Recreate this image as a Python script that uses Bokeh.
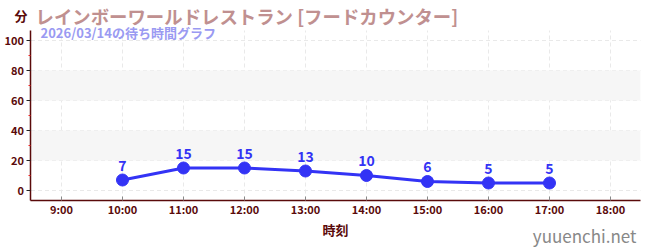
from bokeh.plotting import figure
from bokeh.models import Label, BoxAnnotation, FixedTicker, ColumnDataSource, LabelSet, Range1d
from bokeh.core.properties import value
from bokeh.embed import file_html
from bokeh.resources import INLINE

hours = [10, 11, 12, 13, 14, 15, 16, 17]
waits = [7, 15, 15, 13, 10, 6, 5, 5]
tick_hours = [9, 10, 11, 12, 13, 14, 15, 16, 17, 18]
tick_labels = ["9:00", "10:00", "11:00", "12:00", "13:00", "14:00", "15:00", "16:00", "17:00", "18:00"]
y_ticks = [0, 20, 40, 60, 80, 100]
y_minor = [10, 30, 50, 70, 90]
bands = [(20, 40), (60, 80)]
title = "レインボーワールドレストラン [フードカウンター]"
subtitle = "2026/03/14の待ち時間グラフ"
y_unit = "分"
x_title = "時刻"
watermark = "yuuenchi.net"

FONT = "Noto Sans CJK JP"
AXC = "#5a0a0a"

# plotting region (data units)
X_LO, X_HI = 8.5, 18.49
Y_LO, Y_HI = -6.67, 106.67

p = figure(width=650, height=250, output_backend="svg", toolbar_location=None,
           x_range=Range1d(8.0, 18.656), y_range=Range1d(-40, 126.667),
           min_border=0)
p.title.visible = False
p.outline_line_color = None
p.grid.visible = False

for lo, hi in bands:
    p.add_layout(BoxAnnotation(left=X_LO, right=X_HI, bottom=lo, top=hi, fill_color="#f6f6f6",
                               fill_alpha=1, line_color=None, level="underlay"))

# dashed grid lines drawn from the tick arrays
p.segment(x0=tick_hours, x1=tick_hours, y0=[Y_LO] * len(tick_hours), y1=[Y_HI] * len(tick_hours),
          line_color="#e9e9e9", line_dash="4 3", line_width=1, level="underlay")
p.segment(x0=[X_LO] * len(y_ticks), x1=[X_HI] * len(y_ticks), y0=y_ticks, y1=y_ticks,
          line_color="#e9e9e9", line_dash="4 3", line_width=1, level="underlay")

p.xaxis.fixed_location = Y_LO
p.yaxis.fixed_location = X_LO
p.xaxis.bounds = (X_LO, X_HI)
p.yaxis.bounds = (Y_LO, Y_HI)
p.xaxis.ticker = FixedTicker(ticks=tick_hours)
p.xaxis.major_label_overrides = {h: l for h, l in zip(tick_hours, tick_labels)}
p.yaxis.ticker = FixedTicker(ticks=y_ticks, minor_ticks=y_minor)
for ax in (p.xaxis, p.yaxis):
    ax.axis_line_color = AXC
    ax.axis_line_width = 1.5
    ax.major_label_text_color = AXC
    ax.major_label_text_font = FONT
    ax.major_label_text_font_style = "bold"
    ax.major_label_text_font_size = "11px"
p.yaxis.major_label_standoff = 3
p.xaxis.major_label_standoff = 0
p.yaxis.major_tick_line_color = "#222222"
p.yaxis.major_tick_out = 4
p.yaxis.major_tick_in = 0
p.yaxis.minor_tick_line_color = "#ee2222"
p.yaxis.minor_tick_out = 2
p.yaxis.minor_tick_in = 0
p.xaxis.major_tick_line_color = "#888888"
p.xaxis.major_tick_in = 4
p.xaxis.major_tick_out = 0
p.xaxis.minor_tick_line_color = None
p.xaxis.axis_label = x_title
p.xaxis.axis_label_text_font = FONT
p.xaxis.axis_label_text_font_style = "bold"
p.xaxis.axis_label_text_font_size = "13px"
p.xaxis.axis_label_text_color = AXC
p.xaxis.axis_label_standoff = 0

src = ColumnDataSource(dict(x=hours, y=waits, t=[str(v) for v in waits]))
p.line("x", "y", source=src, line_color="#3333f5", line_width=3)
p.scatter("x", "y", source=src, size=12, fill_color="#3333f5", line_color="#3333f5")
p.add_layout(LabelSet(x="x", y="y", text="t", source=src, y_offset=15, text_align="center",
                      text_baseline="middle", text_color="#3333f5", text_font=value(FONT),
                      text_font_style="bold", text_font_size="14px"))

p.add_layout(Label(x=27, y=235, x_units="screen", y_units="screen", text=y_unit, text_font=FONT,
                   text_font_style="bold", text_font_size="13px", text_color=AXC,
                   text_align="right", text_baseline="middle"))
p.add_layout(Label(x=35, y=235, x_units="screen", y_units="screen", text=title, text_font=FONT,
                   text_font_style="bold", text_font_size="18.4px", text_color="#c09090",
                   text_baseline="middle"))
p.add_layout(Label(x=40, y=218, x_units="screen", y_units="screen", text=subtitle, text_font=FONT,
                   text_font_style="bold", text_font_size="13px", text_color="#9a9af2",
                   text_baseline="middle"))
p.add_layout(Label(x=636, y=15, x_units="screen", y_units="screen", text=watermark, text_font=FONT,
                   text_font_size="17px", text_color="#888888", text_align="right",
                   text_baseline="middle"))

open("out.html", "w").write(file_html(p, INLINE))
